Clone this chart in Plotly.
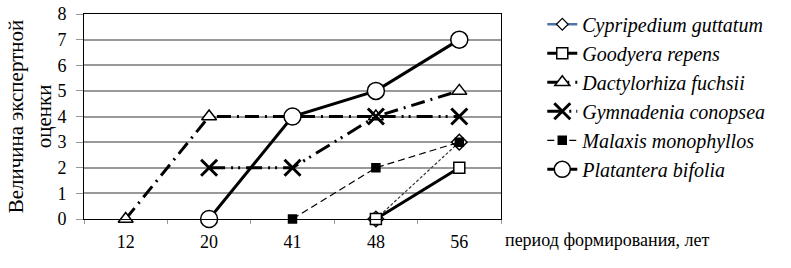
import plotly.graph_objects as go

periods = ["12", "20", "41", "48", "56"]
cypripedium = [None, None, None, 0, 3]
goodyera = [None, None, None, 0, 2]
dactylorhiza = [0, 4, 4, 4, 5]
gymnadenia = [None, 2, 2, 4, 4]
malaxis = [None, None, 0, 2, 3]
platantera = [None, 0, 4, 5, 7]
y_ticks = [0, 1, 2, 3, 4, 5, 6, 7, 8]

FONT = "Liberation Serif"
fig = go.Figure()

def add(name, y, dash, width, symbol, size, fill, lw=1.5):
    fig.add_trace(go.Scatter(
        x=periods, y=y, name=name, mode="lines+markers", cliponaxis=False,
        line=dict(color="black", width=width, dash=dash),
        marker=dict(symbol=symbol, size=size, color=fill,
                    line=dict(color="black", width=lw))))

# Cypripedium: dotted in plot, blue line in legend
fig.add_trace(go.Scatter(x=periods, y=cypripedium, mode="lines+markers", showlegend=False,
                         cliponaxis=False,
                         line=dict(color="#333333", width=1.2, dash="3px,2px"),
                         marker=dict(symbol="diamond", size=12, color="white",
                                     line=dict(color="black", width=1.5))))
fig.add_trace(go.Scatter(x=[None], y=[None], mode="lines+markers", name="Cypripedium guttatum",
                         line=dict(color="#4F75A8", width=2.5),
                         marker=dict(symbol="diamond", size=9, color="white",
                                     line=dict(color="black", width=1.2))))
add("Goodyera repens", goodyera, "solid", 3, "square", 11, "white")
add("Dactylorhiza fuchsii", dactylorhiza, "14px,6px,2px,6px", 3, "triangle-up", 13, "white")
add("Gymnadenia conopsea", gymnadenia, "16px,6px,2px,5px,2px,6px", 3, "x-thin-open", 16, "black", lw=3)
add("Malaxis monophyllos", malaxis, "7px,4px", 1.2, "square", 8, "black")
add("Platantera bifolia", platantera, "solid", 3, "circle", 17, "white")

fig.update_layout(
    template="none",
    width=791, height=268,
    margin=dict(l=84, r=290, t=14, b=49, autoexpand=False),
    paper_bgcolor="white", plot_bgcolor="white",
    font=dict(family=FONT, size=17, color="black"),
    showlegend=True,
    legend=dict(x=1.099, y=1.045, xanchor="left", yanchor="top",
                font=dict(family=FONT, size=20, color="black", style="italic"),
                bgcolor="rgba(0,0,0,0)", itemwidth=30, tracegroupgap=0,
                borderwidth=0, maxheight=250),
    xaxis=dict(type="category", categoryorder="array", categoryarray=periods,
               showgrid=False, showline=True, linecolor="black", linewidth=1, mirror=True,
               ticks="outside", tickson="boundaries", ticklen=4, tickcolor="#999999",
               ticklabelstandoff=6, ticklabeloverflow="allow",
               tickfont=dict(family=FONT, size=18), range=[-0.5, 4.5], zeroline=False),
    yaxis=dict(range=[0, 8], tickvals=y_ticks, showgrid=True, gridcolor="#999999", gridwidth=1.5,
               showline=True, linecolor="black", linewidth=1, mirror=True,
               ticks="outside", ticklen=7, tickcolor="#999999", ticklabelstandoff=6,
               ticklabeloverflow="allow",
               tickfont=dict(family=FONT, size=18),
               title=dict(text="Величина экспертной<br>оценки", font=dict(family=FONT, size=21),
                          standoff=0), zeroline=False),
)
fig.add_annotation(text="период формирования, лет", xref="paper", yref="paper",
                   x=1.005, y=-0.10, xanchor="left", yanchor="middle", showarrow=False,
                   font=dict(family=FONT, size=18))

fig.write_html("out.html", config={"displayModeBar": False},
               post_script="document.body.style.margin='0';document.body.style.overflow='hidden';")
